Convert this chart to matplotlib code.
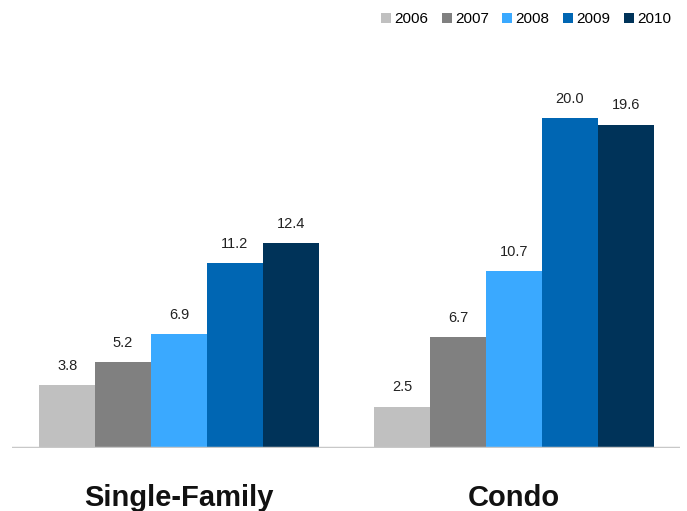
import numpy as np
import matplotlib.pyplot as plt

plt.rcParams['font.family'] = ['Liberation Sans', 'DejaVu Sans']

categories = ['Single-Family', 'Condo']
years = ['2006', '2007', '2008', '2009', '2010']
values = {
    '2006': [3.8, 2.5],
    '2007': [5.2, 6.7],
    '2008': [6.9, 10.7],
    '2009': [11.2, 20.0],
    '2010': [12.4, 19.6],
}
colors = ['#c0c0c0', '#808080', '#3aa9ff', '#0066b3', '#003359']

fig = plt.figure(figsize=(6.87, 5.11), dpi=100)
ax = fig.add_axes([12 / 687, 63 / 511, 668 / 687, 396 / 511])

x = np.arange(len(categories))
w = 0.167
for i, yr in enumerate(years):
    pos = x + (i - 2) * w
    bars = ax.bar(pos, values[yr], width=w, color=colors[i], label=yr,
                  edgecolor='none', zorder=2)
    for b, v in zip(bars, values[yr]):
        ax.annotate('%.1f' % v, (b.get_x() + b.get_width() / 2, v),
                    xytext=(0, 14), textcoords='offset points',
                    ha='center', va='center', fontsize=10.5, color='#222222')

ax.set_xlim(-0.4985, 1.4955)
ax.set_ylim(0, 24)
ax.axhline(0, color='#c8c8c8', lw=2.5, zorder=3)

for s in ax.spines.values():
    s.set_visible(False)
ax.set_yticks([])
ax.set_xticks(x)
ax.set_xticklabels(categories, fontsize=21, fontweight='bold', color='#111111')
ax.tick_params(axis='x', length=0, pad=26)

fig.legend(loc='center', bbox_to_anchor=(526 / 687, 1 - 19 / 511), ncol=5,
           frameon=False, fontsize=11, handlelength=0.65, handleheight=0.65,
           handletextpad=0.2, columnspacing=0.9)

fig.savefig('out.png', dpi=100)
